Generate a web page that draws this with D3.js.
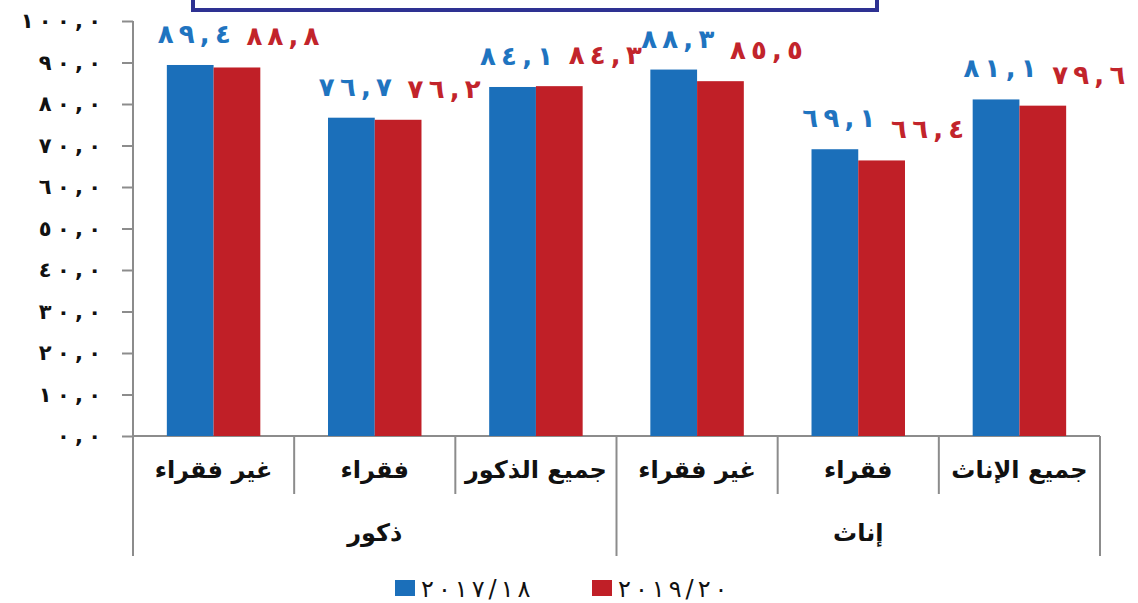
<!DOCTYPE html>
<html>
<head>
<meta charset="utf-8">
<script src="https://cdn.jsdelivr.net/npm/d3@7"></script>
<style>
  body { margin: 0; background: #ffffff; }
  text { font-family: "DejaVu Sans", sans-serif; }
  .num { direction: ltr; unicode-bidi: bidi-override; }
</style>
</head>
<body>
<div id="chart"></div>
<script>
// Chart data
let categories = ['غير فقراء', 'فقراء', 'جميع الذكور', 'غير فقراء', 'فقراء', 'جميع الإناث'];
let groups = ['ذكور', 'إناث'];
let seriesNames = ['2017/18', '2019/20'];
let values1718 = [89.4, 76.7, 84.1, 88.3, 69.1, 81.1];
let values1920 = [88.8, 76.2, 84.3, 85.5, 66.4, 79.6];
let yTicks = [0, 10, 20, 30, 40, 50, 60, 70, 80, 90, 100];

let colors = ['#1b6fba', '#c01f27'];
let labelColors = ['#1f74c0', '#c2242b'];

let svgWidth = 1138;
let svgHeight = 603;
let margins = { top: 21, bottom: 167, left: 133, right: 38 };
let chartHeight = svgHeight - margins.top - margins.bottom;
let chartWidth = svgWidth - margins.left - margins.right;

// Arabic-Indic digits, comma as decimal mark, spaced out like the original
let arDigits = '٠١٢٣٤٥٦٧٨٩';
function toArabic(s, sep) {
    let t = String(s).replace(/[0-9]/g, c => arDigits[+c]).replace('.', ',');
    return t.split('').join(sep || '\u2009');
}

let svg = d3.select('#chart').append('svg')
    .attr('width', svgWidth)
    .attr('height', svgHeight);

// Title box peeking in from top
svg.append('rect')
    .attr('x', 193).attr('y', -20)
    .attr('width', 684).attr('height', 30)
    .attr('fill', '#fff')
    .attr('stroke', '#2e3192')
    .attr('stroke-width', 4);

let chart = svg.append('g')
    .attr('transform', `translate(${margins.left}, ${margins.top})`);

// Scales
let xScale = d3.scaleBand()
    .domain(d3.range(categories.length))
    .range([0, chartWidth])
    .paddingInner(0.42)
    .paddingOuter(0.21);
let xSub = d3.scaleBand()
    .domain(seriesNames)
    .range([0, xScale.bandwidth()]);
let yScale = d3.scaleLinear()
    .domain([0, 100])
    .range([chartHeight, 0]);

// Y axis
let yAxis = d3.axisLeft(yScale)
    .tickValues(yTicks)
    .tickSize(11)
    .tickFormat(d => toArabic(d3.format('.1f')(d), '\u2005'));
let yAxisTag = chart.append('g').call(yAxis);
yAxisTag.select('.domain').remove();
yAxisTag.selectAll('line').attr('stroke', '#8c8c8c').attr('stroke-width', 2);
yAxisTag.selectAll('text')
    .attr('class', 'num')
    .attr('x', -32)
    .style('font-size', '21px')
    .style('font-weight', 'bold')
    .attr('fill', '#111');

// Axis lines and category dividers
let step = xScale.step();
let lineColor = '#8c8c8c';
chart.append('line')
    .attr('x1', 0).attr('x2', 0)
    .attr('y1', 0).attr('y2', chartHeight + 120)
    .attr('stroke', lineColor).attr('stroke-width', 2);
chart.append('line')
    .attr('x1', 0).attr('x2', chartWidth)
    .attr('y1', chartHeight).attr('y2', chartHeight)
    .attr('stroke', lineColor).attr('stroke-width', 2);
d3.range(1, categories.length + 1).forEach(i => {
    let long = (i % 3 === 0);
    chart.append('line')
        .attr('x1', i * step).attr('x2', i * step)
        .attr('y1', chartHeight).attr('y2', chartHeight + (long ? 120 : 58))
        .attr('stroke', lineColor).attr('stroke-width', 2);
});

// Bars
let rows = categories.map((c, i) => ({ i: i, vals: [values1718[i], values1920[i]] }));
let barGroup = chart.selectAll('g.barGroup')
    .data(rows).enter()
    .append('g')
    .attr('class', 'barGroup')
    .attr('transform', d => `translate(${xScale(d.i)}, 0)`);

barGroup.selectAll('rect')
    .data(d => d.vals.map((v, s) => ({ v: v, s: s })))
    .enter().append('rect')
    .attr('x', d => xSub(seriesNames[d.s]))
    .attr('y', d => yScale(d.v))
    .attr('width', xSub.bandwidth())
    .attr('height', d => chartHeight - yScale(d.v))
    .attr('fill', d => colors[d.s]);

// Value labels (red ones pushed right to clear the blue)
let labelShift = [4, 46];
barGroup.selectAll('text.val')
    .data(d => d.vals.map((v, s) => ({ v: v, s: s })))
    .enter().append('text')
    .attr('class', 'val num')
    .attr('x', d => xSub(seriesNames[d.s]) + xSub.bandwidth() / 2 + labelShift[d.s])
    .attr('y', d => yScale(d.v) - 22)
    .attr('text-anchor', 'middle')
    .style('font-size', '26px')
    .style('font-weight', 'bold')
    .attr('fill', d => labelColors[d.s])
    .text(d => toArabic(d.v.toFixed(1)));

// Category labels
chart.selectAll('text.cat')
    .data(categories).enter()
    .append('text')
    .attr('class', 'cat')
    .attr('x', (d, i) => (i + 0.5) * step)
    .attr('y', chartHeight + 42)
    .attr('text-anchor', 'middle')
    .style('font-size', '24px')
    .style('font-weight', 'bold')
    .attr('fill', '#111')
    .text(d => d);

// Group labels
chart.selectAll('text.grp')
    .data(groups).enter()
    .append('text')
    .attr('class', 'grp')
    .attr('x', (d, i) => (i * 3 + 1.5) * step)
    .attr('y', chartHeight + 105)
    .attr('text-anchor', 'middle')
    .style('font-size', '24px')
    .style('font-weight', 'bold')
    .attr('fill', '#111')
    .text(d => d);

// Legend
let legendX = [395, 592];
seriesNames.forEach((name, s) => {
    svg.append('rect')
        .attr('x', legendX[s]).attr('y', 580)
        .attr('width', 20).attr('height', 16)
        .attr('fill', colors[s]);
    svg.append('text')
        .attr('class', 'num')
        .attr('x', legendX[s] + 26).attr('y', 597)
        .style('font-size', '24px')
        .attr('fill', '#111')
        .text(toArabic(name, '\u2006'));
});
</script>
</body>
</html>
